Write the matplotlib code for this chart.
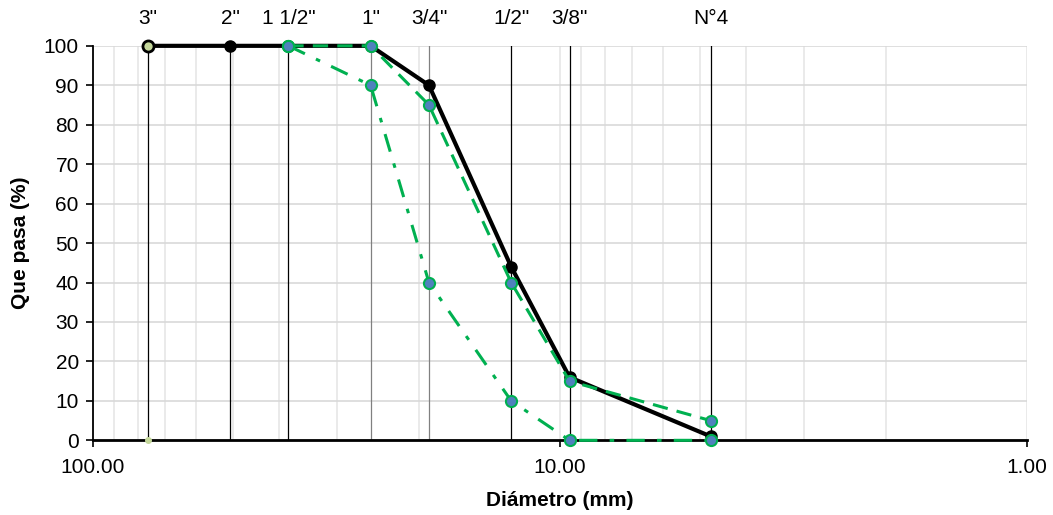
import matplotlib.pyplot as plt
import matplotlib.ticker as mticker

plt.rcParams['font.family'] = ['Liberation Sans', 'DejaVu Sans']

# Sieve data
sieves = ['3"', '2"', '1 1/2"', '1"', '3/4"', '1/2"', '3/8"', 'N°4']
diam = [76.2, 50.8, 38.1, 25.4, 19.05, 12.7, 9.525, 4.75]
sieve_colors = ['black', 'black', 'black', 'gray', 'gray', 'black', 'black', 'black']

# Gradation curve (sample)
pasa = [100, 100, 100, 100, 90, 44, 16, 1]
# Specification limits (from 1 1/2" down)
lim_diam = [38.1, 25.4, 19.05, 12.7, 9.525, 4.75]
lim_sup = [100, 100, 85, 40, 15, 5]
lim_inf = [100, 90, 40, 10, 0, 0]

fig, ax = plt.subplots(figsize=(10.53, 5.15), dpi=100)
fig.subplots_adjust(left=0.088, right=0.975, top=0.911, bottom=0.145)

ax.set_xscale('log')
ax.set_xlim(100, 1)
ax.set_ylim(0, 100)

# grid
ax.yaxis.set_major_locator(mticker.MultipleLocator(10))
ax.xaxis.set_major_locator(mticker.FixedLocator([100, 10, 1]))
ax.xaxis.set_minor_locator(mticker.LogLocator(base=10, subs=range(2, 10)))
ax.xaxis.set_major_formatter(mticker.FuncFormatter(lambda v, p: '%.2f' % v))
ax.xaxis.set_minor_formatter(mticker.NullFormatter())
ax.grid(True, which='major', axis='y', color='#d9d9d9', lw=1.2)
ax.grid(True, which='both', axis='x', color='#e6e6e6', lw=1.2)
ax.tick_params(axis='x', which='minor', length=0)
ax.tick_params(axis='both', which='major', labelsize=15, length=5, width=1.2, direction='out')
ax.tick_params(axis='x', pad=8)
ax.tick_params(axis='y', pad=5)

for s in ['top', 'right']:
    ax.spines[s].set_visible(False)
ax.spines['left'].set_linewidth(1.3)
ax.spines['bottom'].set_linewidth(2)

# sieve vertical lines and labels
for name, d, c in zip(sieves, diam, sieve_colors):
    ax.plot([d, d], [0, 100], color=c, lw=0.9, zorder=2)
    ax.text(d, 104.5, name, ha='center', va='bottom', fontsize=15)
ax.plot([diam[0]], [0], 'o', ms=4, color='#c4d79b', zorder=3, clip_on=False)

ax.plot(diam, pasa, '-o', color='black', lw=3, ms=8, zorder=4, clip_on=False)
ax.plot([diam[0]], [pasa[0]], 'o', ms=8, mfc='#c4d79b', mec='black', mew=2, zorder=5, clip_on=False)
ax.plot(lim_diam, lim_inf, linestyle=(0, (6, 4, 1.5, 4)), color='#00b050', lw=2.2,
        marker='o', ms=8, mfc='#4f81bd', mec='#00b050', mew=1.5, zorder=5, clip_on=False)
ax.plot(lim_diam, lim_sup, linestyle=(0, (5, 3)), color='#00b050', lw=2.2,
        marker='o', ms=8, mfc='#4f81bd', mec='#00b050', mew=1.5, zorder=6, clip_on=False)

ax.set_xlabel('Diámetro (mm)', fontsize=15, fontweight='bold', labelpad=10)
ax.set_ylabel('Que pasa (%)', fontsize=15, fontweight='bold', labelpad=10)

fig.savefig('out.png')
